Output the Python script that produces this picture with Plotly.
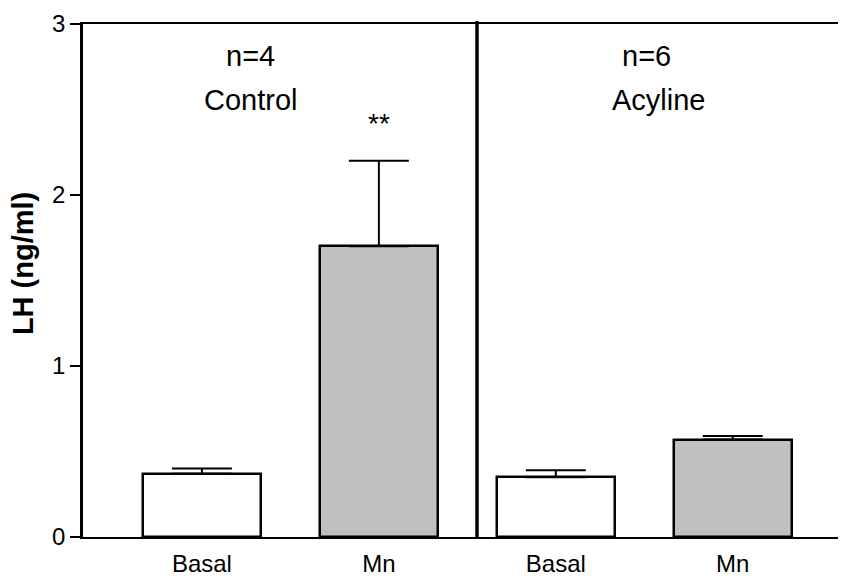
import plotly.graph_objects as go

# ---- data ----
conditions = ["Basal", "Mn", "Basal", "Mn"]
groups = ["Control", "Control", "Acyline", "Acyline"]
means = [0.37, 1.70, 0.35, 0.57]
sems = [0.03, 0.50, 0.04, 0.02]
fill_colors = ["#FFFFFF", "#C0C0C0", "#FFFFFF", "#C0C0C0"]
group_labels = ["Control", "Acyline"]
group_n = ["n=4", "n=6"]
y_ticks = [0, 1, 2, 3]
y_title = "LH (ng/ml)"

positions = list(range(len(means)))
FONT = "Liberation Sans, Arial, sans-serif"

fig = go.Figure()
fig.add_trace(go.Bar(
    x=positions, y=means, width=0.667,
    marker=dict(color=fill_colors, line=dict(color="black", width=2.5)),
    error_y=dict(type="data", array=sems, arrayminus=[0] * len(sems), symmetric=False,
                 color="black", thickness=2, width=30),
    showlegend=False, hoverinfo="skip",
))

# the page body has an 8px margin, so the figure is sized/offset for it
fig.update_layout(
    width=838, height=568,
    margin=dict(l=75, r=0, t=16, b=39, autoexpand=False),
    paper_bgcolor="white", plot_bgcolor="white",
    font=dict(family=FONT, color="black"),
    bargap=0,
    xaxis=dict(range=[-0.672, 3.64], tickvals=positions, ticktext=conditions,
               showline=True, linecolor="black", linewidth=2, mirror=True,
               ticks="", showgrid=False, zeroline=False, automargin=False,
               tickfont=dict(size=24, family=FONT), ticklabelstandoff=4),
    yaxis=dict(range=[0, 3], tickvals=y_ticks, showline=True, linecolor="black", linewidth=2.5,
               ticks="outside", ticklen=10, tickwidth=2, tickcolor="black", automargin=False,
               showgrid=False, zeroline=False, tickfont=dict(size=24, family=FONT)),
)

# y-axis title (placed slightly above the axis centre, as in the original)
fig.add_annotation(xref="paper", yref="paper", x=-0.0786, y=0.532, xanchor="center", yanchor="middle",
                   text=f"<b>{y_title}</b>", textangle=-90, showarrow=False,
                   font=dict(size=29, family=FONT))

# group divider
fig.add_shape(type="line", xref="paper", yref="paper", x0=0.5164, x1=0.5164, y0=0, y1=1.006,
              line=dict(color="black", width=3.5))

# group annotations
n_x = [0.2189, 0.739]
lab_x = [0.2202, 0.755]
for nx, lx, lab, n in zip(n_x, lab_x, group_labels, group_n):
    fig.add_annotation(xref="paper", yref="paper", x=nx, y=0.9376, xanchor="center", yanchor="middle",
                       text=n, showarrow=False, font=dict(size=29, family=FONT))
    fig.add_annotation(xref="paper", yref="paper", x=lx, y=0.852, xanchor="center", yanchor="middle",
                       text=lab, showarrow=False, font=dict(size=29, family=FONT))

# significance marker above Control Mn
fig.add_annotation(xref="x", yref="y", x=positions[1], y=means[1] + sems[1] + 0.22,
                   xanchor="center", yanchor="middle",
                   text="**", showarrow=False, font=dict(size=28, family=FONT))

fig.write_html("out.html")
